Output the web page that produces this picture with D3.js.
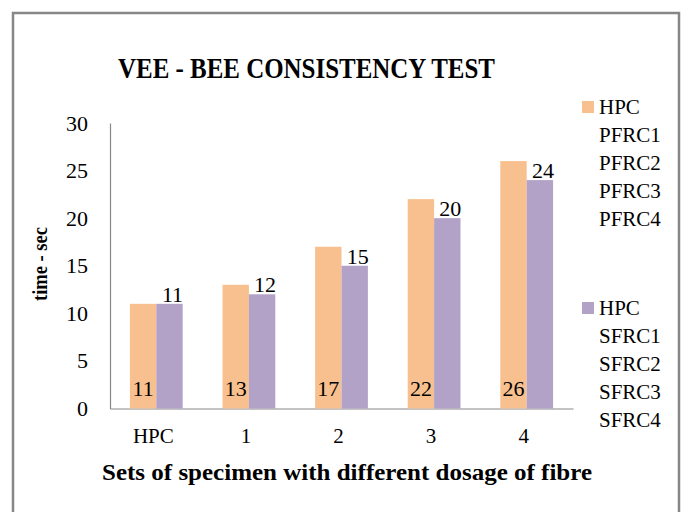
<!DOCTYPE html>
<html>
<head>
<meta charset="utf-8">
<script src="https://cdn.jsdelivr.net/npm/d3@7"></script>
<style>
  body { margin: 0; background: #fff; }
  text { font-family: "Liberation Serif", "DejaVu Serif", serif; fill: #000; }
</style>
</head>
<body>
<script>
// chart data
const categories = ["HPC", "1", "2", "3", "4"];
const pfrcValues = [11, 13, 17, 22, 26];
const sfrcValues = [11, 12, 15, 20, 24];
const yTicks = [0, 5, 10, 15, 20, 25, 30];
const pfrcLegend = ["HPC", "PFRC1", "PFRC2", "PFRC3", "PFRC4"];
const sfrcLegend = ["HPC", "SFRC1", "SFRC2", "SFRC3", "SFRC4"];

const width = 683;
const height = 512;

let svg = d3.select("body").append("svg")
    .attr("width", width)
    .attr("height", height);

// outer frame
svg.append("rect")
    .attr("x", 13)
    .attr("y", 13)
    .attr("width", 666)
    .attr("height", 520)
    .attr("fill", "#fff")
    .attr("stroke", "#878787")
    .attr("stroke-width", 2.5);

// scales
const x0 = d3.scaleBand()
    .domain(categories)
    .range([110, 573])
    .paddingInner(0.43)
    .paddingOuter(0.215);
const x1 = d3.scaleBand()
    .domain(["pfrc", "sfrc"])
    .range([0, x0.bandwidth()]);
const y = d3.scaleLinear()
    .domain([0, 30])
    .range([408.5, 123]);

// axes
let yAxis = svg.append("g")
    .attr("transform", "translate(110,0)")
    .call(d3.axisLeft(y).tickValues(yTicks).tickSize(0).tickPadding(22));
yAxis.select(".domain").attr("stroke", "#888").attr("stroke-width", 1.2);
yAxis.selectAll("text")
    .attr("font-family", "Liberation Serif")
    .attr("font-size", 22);

let xAxis = svg.append("g")
    .attr("transform", "translate(0,408.5)")
    .call(d3.axisBottom(x0).tickSize(0).tickPadding(20));
xAxis.select(".domain").attr("stroke", "#888").attr("stroke-width", 1.2);
xAxis.selectAll("text")
    .attr("font-family", "Liberation Serif")
    .attr("font-size", 21)
    .attr("dx", -3);

// bars
const rows = categories.map((c, i) => ({ cat: c, pfrc: pfrcValues[i], sfrc: sfrcValues[i] }));
const colors = { pfrc: "#F9C08F", sfrc: "#B3A2C7" };

let groups = svg.append("g").selectAll("g")
    .data(rows)
    .join("g")
    .attr("transform", (d) => `translate(${x0(d.cat)},0)`);

["pfrc", "sfrc"].forEach((k) => {
    groups.append("rect")
        .attr("x", x1(k))
        .attr("y", (d) => y(d[k]))
        .attr("width", x1.bandwidth())
        .attr("height", (d) => y(0) - y(d[k]))
        .attr("fill", colors[k]);
});

// value labels: pfrc inside base, sfrc above the bar
groups.append("text")
    .attr("x", x1("pfrc") + x1.bandwidth() / 2)
    .attr("y", y(0) - 13)
    .attr("text-anchor", "middle")
    .attr("font-size", 22)
    .text((d) => d.pfrc);
groups.append("text")
    .attr("x", x1("sfrc") + x1.bandwidth() / 2 + 3)
    .attr("y", (d) => y(d.sfrc) - 2)
    .attr("text-anchor", "middle")
    .attr("font-size", 22)
    .text((d) => d.sfrc);

// title
svg.append("text")
    .attr("x", 118)
    .attr("y", 78)
    .attr("font-size", 30)
    .attr("font-weight", "bold")
    .attr("textLength", 377)
    .attr("lengthAdjust", "spacingAndGlyphs")
    .text("VEE - BEE CONSISTENCY  TEST");

// axis titles
svg.append("text")
    .attr("transform", "translate(47,264) rotate(-90)")
    .attr("text-anchor", "middle")
    .attr("font-size", 22)
    .attr("font-weight", "bold")
    .attr("textLength", 74)
    .attr("lengthAdjust", "spacingAndGlyphs")
    .text("time - sec");

svg.append("text")
    .attr("x", 102)
    .attr("y", 480)
    .attr("font-size", 23)
    .attr("font-weight", "bold")
    .attr("textLength", 490)
    .attr("lengthAdjust", "spacingAndGlyphs")
    .text("Sets of specimen with different dosage of fibre");

// legend
const legendGroups = [
    { key: "pfrc", lines: pfrcLegend, top: 107 },
    { key: "sfrc", lines: sfrcLegend, top: 308 }
];
legendGroups.forEach((g) => {
    let lg = svg.append("g");
    lg.append("rect")
        .attr("x", 582)
        .attr("y", g.top - 6)
        .attr("width", 12)
        .attr("height", 12)
        .attr("fill", colors[g.key]);
    lg.selectAll("text")
        .data(g.lines)
        .join("text")
        .attr("x", 599)
        .attr("y", (d, i) => g.top + i * 28)
        .attr("dy", "0.35em")
        .attr("font-size", 21)
        .text((d) => d);
});
</script>
</body>
</html>
